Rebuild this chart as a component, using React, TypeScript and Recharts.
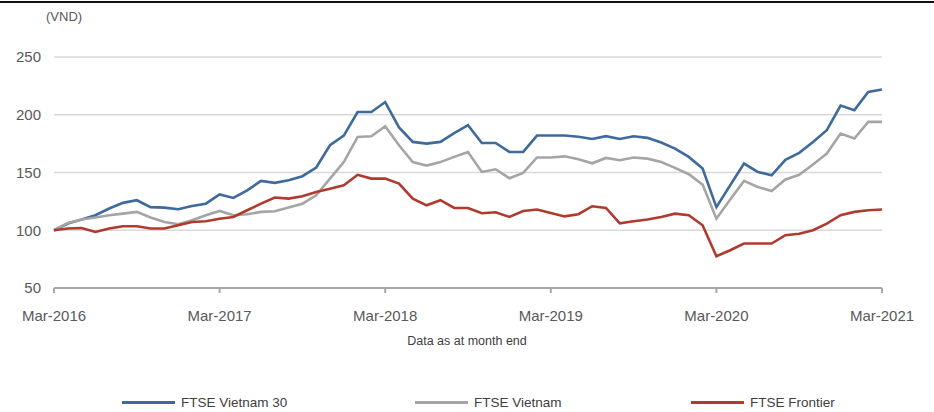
import { LineChart, Line, XAxis, YAxis, CartesianGrid } from 'recharts'

const START_YEAR = 2016
const MONTHS = ['Mar', 'Apr', 'May', 'Jun', 'Jul', 'Aug', 'Sep', 'Oct', 'Nov', 'Dec', 'Jan', 'Feb']

// index values, month end, Mar-2016 = 100
const vietnam30 = [
  100, 105.8, 109.3, 113, 118.8, 123.7, 126, 120, 119.6, 118.2, 121, 123,
  131, 128, 134.6, 142.7, 141, 143.3, 146.8, 154.3, 173.6, 182, 202.4, 202.4,
  211, 189, 176.5, 175, 176.5, 184, 191, 175.5, 175.6, 167.8, 167.8, 182,
  182, 182, 181, 179, 181.5, 179, 181.4, 180, 176, 170.7, 163.5, 153.4,
  120, 139, 157.7, 150.5, 147.6, 161, 167, 176.5, 186.6, 208, 204, 219.7,
  221.8,
]
const vietnam = [
  100, 106.3, 109.3, 111, 113, 114.4, 115.9, 111, 107.2, 105.2, 108.7, 113,
  116.7, 113, 113.9, 115.9, 116.5, 119.6, 123, 130.3, 144.7, 159, 180.8, 181.4,
  190, 173.6, 159, 156, 159, 163.5, 167.8, 150.5, 152.8, 145, 149.6, 163,
  163, 164, 161.5, 158, 162.6, 160.6, 163, 162, 159, 154, 148.5, 139.5,
  110, 126.6, 142.7, 137.5, 134, 144, 148, 157, 166.4, 183.7, 179.4, 193.8,
  193.8,
]
const frontier = [
  100, 101.5, 102, 98.5, 101.5, 103.5, 103.5, 101.5, 101.5, 104.3, 107.2, 107.8,
  110, 111.5, 117.3, 123, 128.3, 127.4, 129.4, 133.2, 136, 139, 148, 144.7,
  144.7, 140.4, 127.4, 121.6, 126, 119.3, 119.3, 114.7, 115.6, 111.5, 116.7, 117.9,
  115, 112, 113.9, 120.8, 119.3, 106, 107.8, 109.3, 111.5, 114.4, 113, 104.3,
  77.5, 82.7, 88.5, 88.5, 88.5, 95.7, 97, 100, 105.8, 113, 115.9, 117.3,
  117.9,
]

const yTicks = [50, 100, 150, 200, 250]
const xTicks = [0, 12, 24, 36, 48, 60]

const series = [
  { key: 'v30', name: 'FTSE Vietnam 30', color: '#3F6A9C', left: 122 },
  { key: 'vn', name: 'FTSE Vietnam', color: '#A5A5A5', left: 415 },
  { key: 'fr', name: 'FTSE Frontier', color: '#B03A2E', left: 691 },
]

function monthLabel(i: number) {
  const m = MONTHS[i % 12]
  const year = START_YEAR + Math.floor((i + 2) / 12)
  return `${m}-${year}`
}

const data = vietnam30.map((v, i) => ({
  i,
  v30: v,
  vn: vietnam[i],
  fr: frontier[i],
}))

const FONT = '"Liberation Sans", Arial, sans-serif'

export default function App() {
  return (
    <div style={{ position: 'fixed', left: 0, top: 0, width: 934, height: 412, background: '#fff', fontFamily: FONT }}>
      <div style={{ position: 'absolute', left: 0, top: 1, width: 934, height: 2, background: '#111' }} />
      <div style={{ position: 'absolute', left: 46, top: 9, fontSize: 13, color: '#595959' }}>(VND)</div>
      <div style={{ position: 'absolute', left: 0, width: 934, top: 334, textAlign: 'center', fontSize: 12.5, color: '#404040' }}>
        Data as at month end
      </div>
      <LineChart width={934} height={412} data={data} margin={{ top: 57, right: 52, left: 0, bottom: 84 }}>
        <CartesianGrid horizontal vertical={false} stroke="#D9D9D9" strokeWidth={1.5} />
        <XAxis
          dataKey="i"
          type="number"
          domain={[0, 60]}
          ticks={xTicks}
          interval={0}
          tickFormatter={(v: number) => monthLabel(v)}
          height={40}
          stroke="#A6A6A6"
          strokeWidth={2}
          tickSize={5}
          tickMargin={17}
          tick={{ fontSize: 15, fill: '#595959', fontFamily: FONT }}
        />
        <YAxis
          domain={[50, 250]}
          ticks={yTicks}
          width={54}
          axisLine={false}
          tickLine={false}
          tickMargin={7}
          tick={{ fontSize: 15, fill: '#595959', fontFamily: FONT }}
        />
        {series.map(s => (
          <Line
            key={s.key}
            dataKey={s.key}
            name={s.name}
            stroke={s.color}
            strokeWidth={2.6}
            dot={false}
            activeDot={false}
            type="linear"
            isAnimationActive={false}
          />
        ))}
      </LineChart>
      {/* legend */}
      {series.map(s => (
        <div key={s.key} style={{ position: 'absolute', left: s.left, top: 395, display: 'flex', alignItems: 'center' }}>
          <span style={{ width: 53, height: 3, background: s.color, display: 'inline-block' }} />
          <span style={{ marginLeft: 6, fontSize: 13.5, color: '#404040' }}>{s.name}</span>
        </div>
      ))}
    </div>
  )
}
